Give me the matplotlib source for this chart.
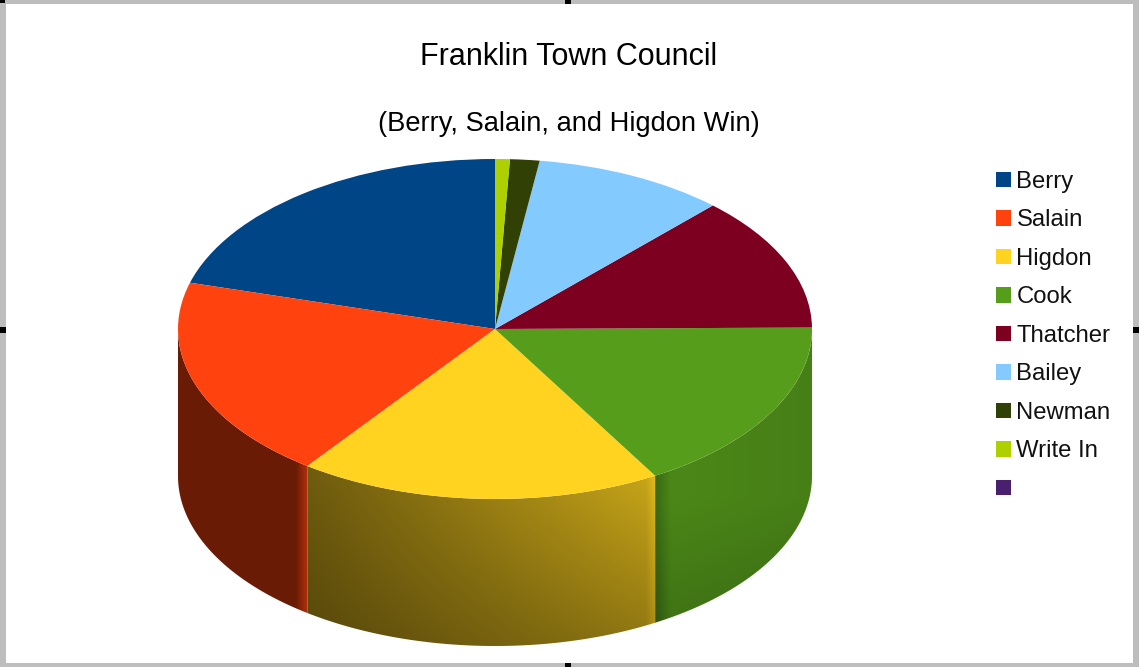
import numpy as np
import matplotlib
matplotlib.use('Agg')
import matplotlib.pyplot as plt
from matplotlib.colors import to_rgb
from matplotlib.patches import Polygon, Rectangle

plt.rcParams['font.family'] = ['Liberation Sans', 'DejaVu Sans']

# Vote shares (percent)
names = ['Berry', 'Salain', 'Higdon', 'Cook', 'Thatcher', 'Bailey', 'Newman', 'Write In', '']
shares = [20.6, 19.3, 18.5, 16.7, 12.8, 9.8, 1.5, 0.75, 0]
colors = ['#004586', '#ff420e', '#ffd320', '#579d1c', '#7e0021', '#83caff', '#314004', '#aecf00', '#4b1f6f']

W, H = 1139, 667
cx, cy, rx, ry, depth = 495, 329, 317, 170, 147

fig = plt.figure(figsize=(W / 100, H / 100), dpi=100, facecolor='white')
ax = fig.add_axes([0, 0, 1, 1])

# Top face: a normal pie squashed by turning the equal aspect off
wedges, _ = ax.pie(shares, colors=colors, startangle=90, counterclock=True, radius=1,
                   wedgeprops={'linewidth': 0, 'antialiased': True})
ax.set_aspect('auto')
xlim = (-cx / rx, (W - cx) / rx)
ylim = ((cy - H) / ry, cy / ry)
ax.axis('off')
for w in wedges:
    w.set_zorder(5)

wall = depth / ry

# Side walls of the slices that face the viewer
gy, gx = np.mgrid[0:300, 0:700]
gx = -1.02 + gx / 699 * 2.04
gy = -1 - wall - 0.02 + gy / 299 * (1 + wall + 0.04)
for w, base in zip(wedges, colors):
    a1, a2 = max(w.theta1, 180), min(w.theta2, 360)
    if a2 <= a1:
        continue
    t = np.radians(np.linspace(a1, a2, 80))
    top = np.column_stack([np.cos(t), np.sin(t)])
    bottom = top[::-1] - [0, wall]
    poly = Polygon(np.vstack([top, bottom]), closed=True, transform=ax.transData, facecolor='none', edgecolor='none')
    ax.add_patch(poly)

    left_x, right_x = np.cos(t[0]), np.cos(t[-1])
    u = (gx - left_x) / (right_x - left_x)
    v = (gy + 1 + wall) / wall  # 0 at the lowest point of the wall
    if base == '#ff420e':
        # flat dark red, lit strip next to the yellow slice
        k = 0.415 + 0.25 * np.clip((gx - (right_x - 0.038)) / 0.03, 0, 1)
    elif base == '#579d1c':
        # dark strip next to the yellow slice, soft fade to the outer edge
        k = 0.72 + 0.15 * np.clip(v, 0, 1) - 0.06 * np.clip(u, 0, 1)
        k = k - 0.20 * (1 - np.clip((gx - left_x) / 0.05, 0, 1))
    else:
        # diagonal gradient on the yellow slice
        k = 0.34 + 0.22 * u + 0.20 * v * (0.4 + 0.6 * u)
        k = k + 0.10 * np.clip((gx - (right_x - 0.03)) / 0.03, 0, 1)
    img = np.clip(k[..., None] * np.array(to_rgb(base)), 0, 1)
    im = ax.imshow(img, extent=(gx.min(), gx.max(), gy.min(), gy.max()), origin='lower',
                   aspect='auto', zorder=3, interpolation='bilinear')
    im.set_clip_path(poly)

ax.set_xlim(xlim)
ax.set_ylim(ylim)

fig.text(569 / W, 1 - 57 / H, 'Franklin Town Council', ha='center', va='center', fontsize=22, color='black')
fig.text(569 / W, 1 - 124 / H, '(Berry, Salain, and Higdon Win)', ha='center', va='center', fontsize=19.6, color='black')

leg = ax.legend(wedges, names, loc='upper left', bbox_to_anchor=(996 / W, 1 - 171 / H), bbox_transform=fig.transFigure,
                frameon=False, fontsize=17.2, handlelength=0.63, handleheight=0.63, handletextpad=0.225,
                labelspacing=0.69, borderpad=0, borderaxespad=0)
for t in leg.get_texts():
    t.set_color('#111111')

# Grey selection frame with its black handles
for x, y, w, h, c in [(0, 0, W, 4, '#bdbdbd'), (0, H - 4, W, 4, '#bdbdbd'), (0, 0, 6, H, '#bdbdbd'), (W - 6, 0, 6, H, '#bdbdbd'),
                      (565, 0, 6, 4, 'black'), (565, H - 4, 6, 4, 'black'), (0, 327, 6, 6, 'black'), (W - 6, 327, 6, 6, 'black'),
                      (0, 0, 5, 3, 'black')]:
    fig.add_artist(Rectangle((x / W, 1 - (y + h) / H), w / W, h / H, transform=fig.transFigure, facecolor=c, edgecolor='none'))

fig.savefig('out.png', dpi=100, facecolor='white')
plt.close(fig)
